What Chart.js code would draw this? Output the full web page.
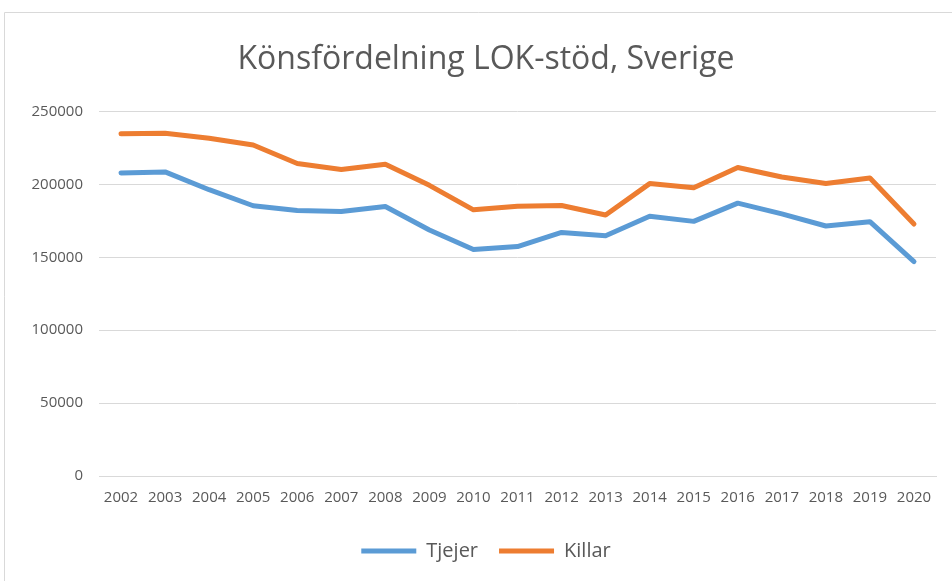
<!DOCTYPE html>
<html><head><meta charset="utf-8">
<script src="https://cdn.jsdelivr.net/npm/chart.js@4"></script>
<style>html,body{margin:0;padding:0;background:#fff}#wrap{width:952px;height:581px;position:relative}</style>
</head><body><div id="wrap"><canvas id="c" width="952" height="581"></canvas></div>
<script>
const years = ['2002','2003','2004','2005','2006','2007','2008','2009','2010','2011','2012','2013','2014','2015','2016','2017','2018','2019','2020'];
const tjejer = [207800,208500,196300,185300,182000,181300,184800,168700,155300,157300,167000,164700,178100,174600,187100,179700,171400,174400,147000];
const killar = [234600,235000,231600,227000,214300,210200,213800,199300,182500,185000,185500,179000,200500,197700,211500,205000,200500,204400,172800];
const yTicks = [0,50000,100000,150000,200000,250000];

const frame = {id:'frame', beforeDraw(ch){const c=ch.ctx;c.save();c.strokeStyle='#d9d9d9';c.lineWidth=1;c.beginPath();c.moveTo(4.5,581);c.lineTo(4.5,12.5);c.lineTo(952,12.5);c.stroke();c.restore();}};

new Chart(document.getElementById('c'), {
  type:'line',
  data:{labels:years, datasets:[
    {label:'Tjejer', data:tjejer, borderColor:'#5B9BD5', backgroundColor:'#5B9BD5', borderWidth:5, pointRadius:0, tension:0, borderCapStyle:'round', borderJoinStyle:'round'},
    {label:'Killar', data:killar, borderColor:'#ED7D31', backgroundColor:'#ED7D31', borderWidth:5, pointRadius:0, tension:0, borderCapStyle:'round', borderJoinStyle:'round'}
  ]},
  options:{
    responsive:false, animation:false,
    layout:{padding:{left:20,right:0,top:0,bottom:10}},
    plugins:{
      title:{display:true, text:'Könsfördelning LOK-stöd, Sverige', color:'#595959', font:{family:'Open Sans', size:32, weight:'normal'}, padding:{top:41,bottom:32}},
      legend:{position:'bottom', labels:{usePointStyle:true, pointStyle:'line', pointStyleWidth:55, boxHeight:20, color:'#595959', font:{family:'Open Sans', size:20}, padding:21}},
      tooltip:{enabled:false}
    },
    scales:{
      x:{offset:true, afterFit(s){s.height=44;}, grid:{display:false, drawTicks:false}, border:{color:'#d9d9d9'}, ticks:{color:'#595959', font:{family:'Open Sans', size:15}, padding:13, maxRotation:0, autoSkip:false}},
      y:{min:0, max:250000, afterBuildTicks(s){s.ticks=yTicks.map(v=>({value:v}));}, afterFit(s){s.width=79;}, grid:{color:'#d9d9d9', drawTicks:false}, border:{display:false}, ticks:{color:'#595959', font:{family:'Open Sans', size:15}, padding:16, callback:v=>String(v)}},
      yr:{position:'right', min:0, max:1, afterFit(s){s.width=16;}, grid:{display:false, drawTicks:false}, border:{display:false}, ticks:{display:false}}
    }
  },
  plugins:[frame]
});
</script></body></html>
